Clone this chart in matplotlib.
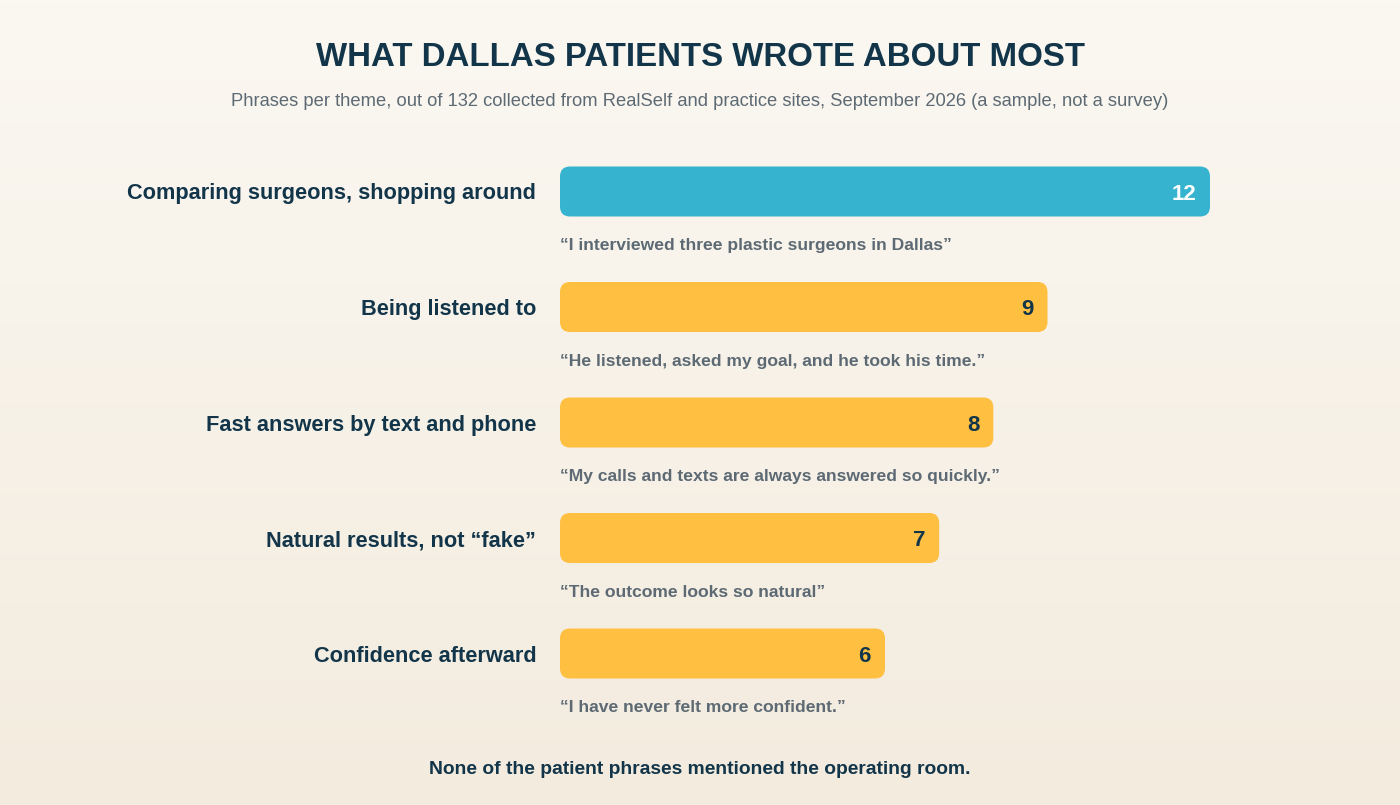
import matplotlib.pyplot as plt
import numpy as np
from matplotlib.patches import FancyBboxPatch
from matplotlib.colors import LinearSegmentedColormap

plt.rcParams['font.family'] = ['Liberation Sans', 'DejaVu Sans']

themes = ['Comparing surgeons, shopping around', 'Being listened to',
          'Fast answers by text and phone', 'Natural results, not \u201cfake\u201d',
          'Confidence afterward']
counts = [12, 9, 8, 7, 6]
quotes = ['\u201cI interviewed three plastic surgeons in Dallas\u201d',
          '\u201cHe listened, asked my goal, and he took his time.\u201d',
          '\u201cMy calls and texts are always answered so quickly.\u201d',
          '\u201cThe outcome looks so natural\u201d',
          '\u201cI have never felt more confident.\u201d']

NAVY = '#12354a'
GREY = '#5d6a74'
TEAL = '#36b3ce'
GOLD = '#ffbf40'

W, H = 1400, 805
fig = plt.figure(figsize=(W / 100, H / 100), dpi=100)

# background gradient
bg = fig.add_axes([0, 0, 1, 1])
cmap = LinearSegmentedColormap.from_list('bg', ['#fbf8f2', '#f3ebde'])
bg.imshow(np.linspace(0, 1, 256).reshape(-1, 1), aspect='auto', cmap=cmap,
          extent=[0, 1, 0, 1], origin='upper')
bg.set_axis_off()

# bar axes: x=0 at 560px, 54.17 px per unit; rows 115.5 px apart
ax = fig.add_axes([560 / W, (H - 711.25) / H, 780 / W, 577.5 / H])
ax.set_xlim(0, 14.4)
ax.set_ylim(4.5, -0.5)
ax.set_axis_off()

bar_h = 50 / 115.5
aspect = (780 / 14.4) / 115.5
r = 10 / (780 / 14.4)
for i, (name, v, q) in enumerate(zip(themes, counts, quotes)):
    color = TEAL if i == 0 else GOLD
    ax.add_patch(FancyBboxPatch((0, i - bar_h / 2), v, bar_h,
                                boxstyle=f'round,pad=0,rounding_size={r}',
                                mutation_aspect=aspect, fc=color, ec='none'))
    ax.text(v - 0.26, i, str(v), ha='right', va='center_baseline', fontsize=16,
            fontweight='bold', color='white' if i == 0 else NAVY)
    ax.text(-0.44, i, name, ha='right', va='center_baseline', fontsize=15.7,
            fontweight='bold', color=NAVY)
    ax.text(0, i + 0.455, q, ha='left', va='center_baseline', fontsize=12.6,
            fontweight='bold', color=GREY)

fig.text(0.5, 1 - 58 / H, 'WHAT DALLAS PATIENTS WROTE ABOUT MOST', ha='center',
         va='center', fontsize=23.8, fontweight='bold', color=NAVY)
fig.text(0.5, 1 - 100 / H, 'Phrases per theme, out of 132 collected from RealSelf and practice sites, '
         'September 2026 (a sample, not a survey)', ha='center', va='center_baseline',
         fontsize=13.25, color=GREY)
fig.text(0.5, 1 - 767 / H, 'None of the patient phrases mentioned the operating room.',
         ha='center', va='center_baseline', fontsize=13.9, fontweight='bold', color=NAVY)

fig.savefig('out.png', dpi=100)
